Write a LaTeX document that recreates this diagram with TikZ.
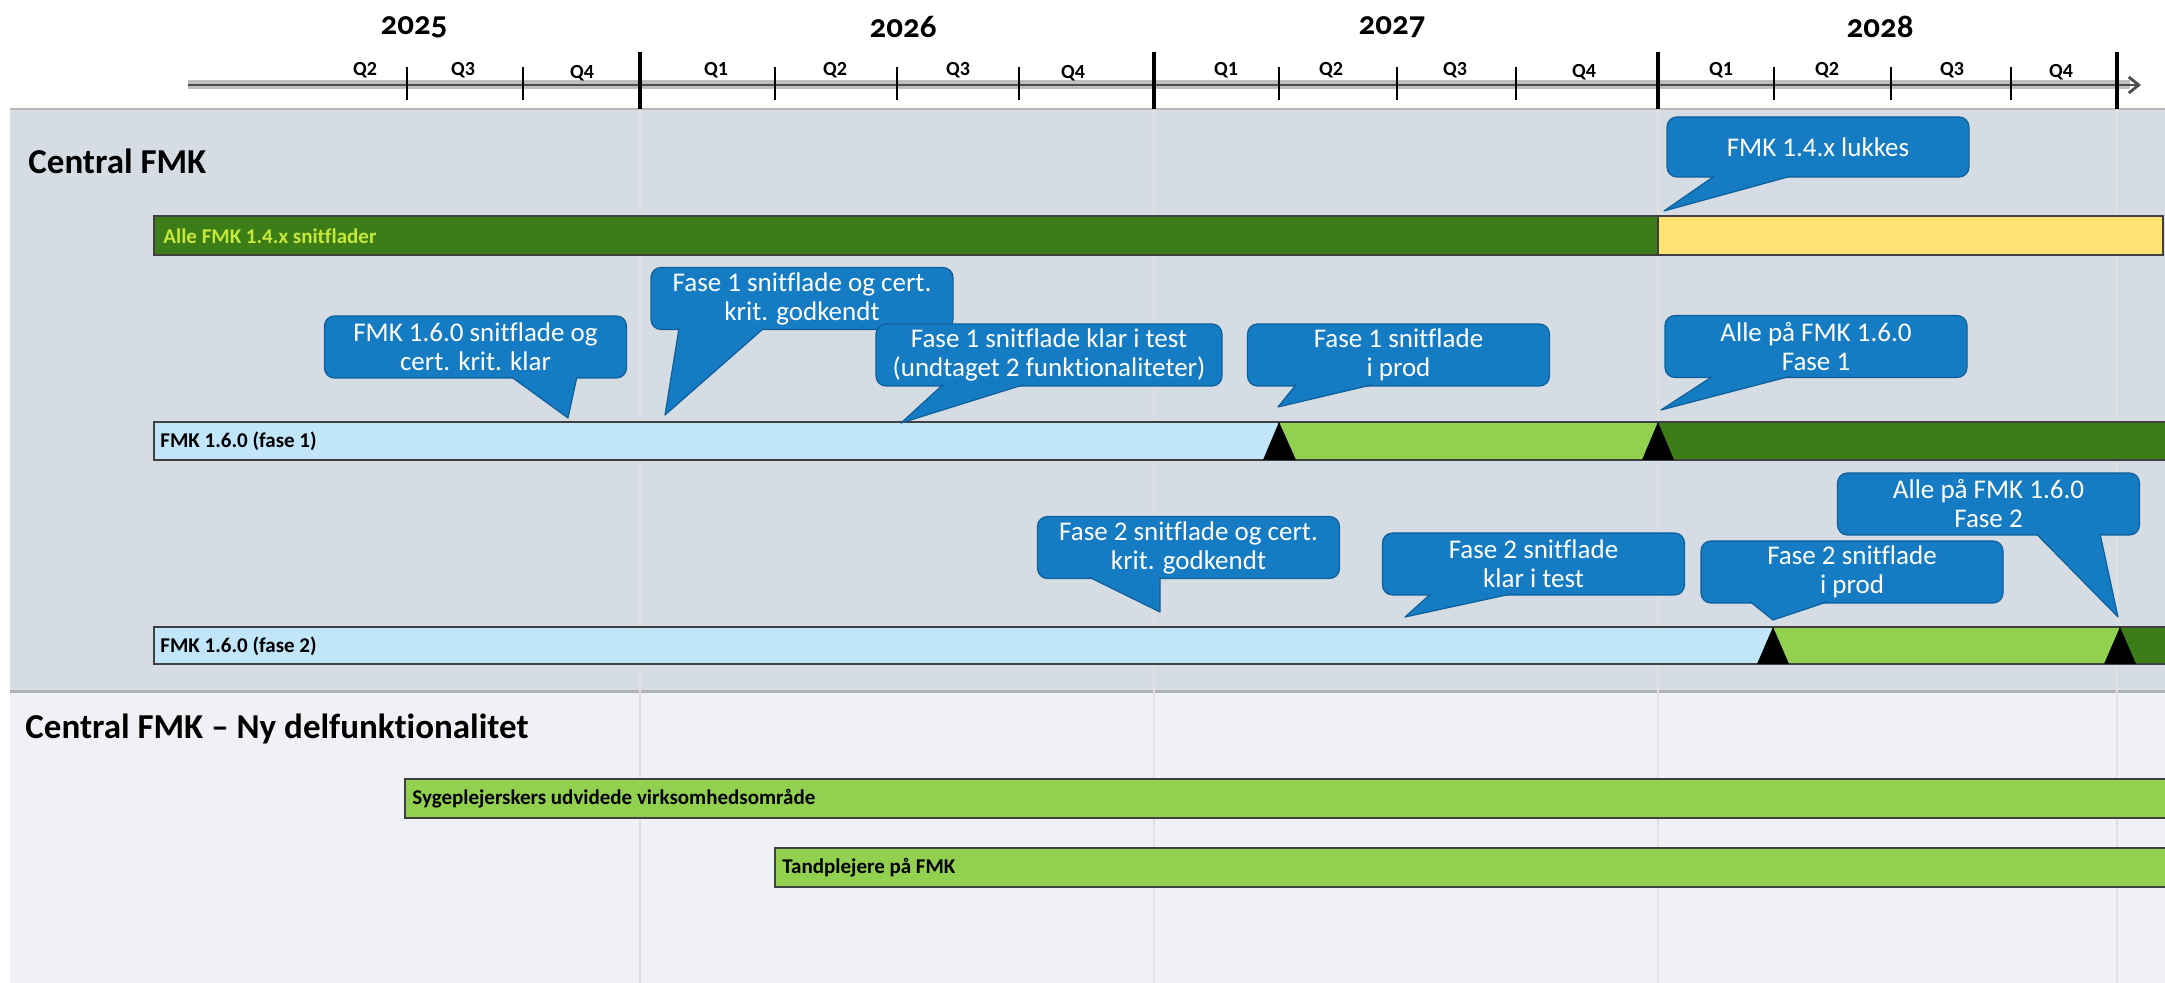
\documentclass[tikz,border=0pt]{standalone}
\usepackage{fontspec}
\setmainfont{Carlito}[Ligatures=NoCommon]
\newfontfamily\yearfont[Numbers=OldStyle,Ligatures=NoCommon]{Carlito}
\usetikzlibrary{arrows.meta,calc}
\definecolor{panelup}{HTML}{D6DCE4}
\definecolor{panellow}{HTML}{EFF1F4}
\definecolor{darkgreen}{HTML}{3C7D18}
\definecolor{lightgreen}{HTML}{92D050}
\definecolor{lightblue}{HTML}{C1E5F9}
\definecolor{baryellow}{HTML}{FFE372}
\definecolor{limetext}{HTML}{C5E83A}
\definecolor{callblue}{HTML}{157CC3}
\definecolor{callborder}{HTML}{0E5F9A}
\begin{document}
\begin{tikzpicture}[x=0.5pt,y=-0.5pt,
  callbox/.style={fill=callblue,draw=callborder,line width=0.6pt,rounded corners=5pt,minimum width=151pt,minimum height=31pt,inner sep=0pt,align=center,text=white,font=\fontsize{13.5}{14.5}\selectfont},
  tail/.style={fill=callblue,draw=callborder,line width=0.6pt,line join=round},
  bar/.style={draw=black!75,line width=0.6pt},
  barlabel/.style={anchor=west,inner sep=0pt,font=\fontsize{10.5}{12}\selectfont\bfseries},
  title/.style={anchor=base west,inner sep=0pt,font=\fontsize{17.5}{20}\selectfont\bfseries},
  yearlabel/.style={inner sep=0pt,font=\yearfont\fontsize{16.5}{18}\selectfont\bfseries},
  qlabel/.style={inner sep=0pt,font=\fontsize{10}{12}\selectfont\bfseries},
  qline/.style={line width=0.75pt},
  yline/.style={line width=2pt},
  gridline/.style={color=black!12,line width=1pt}]
\useasboundingbox (0,0) rectangle (2165,983);
\fill[white] (0,0) rectangle (2165,983);
% panels
\fill[panelup] (10,109) rectangle (2165,692);
\fill[panellow] (10,692) rectangle (2165,983);
\draw[gray!55,line width=1pt] (10,109) -- (2165,109);
\draw[gray!60,line width=1.5pt] (10,692) -- (2165,692);
\draw[gridline] (640,109) -- (640,983);
\draw[gridline] (1154,109) -- (1154,983);
\draw[gridline] (1658,109) -- (1658,983);
\draw[gridline] (2117,109) -- (2117,983);
% time axis
\draw[gray!50,line width=4.5pt] (188,85) -- (2130,85);
\draw[gray!60!black,line width=1.4pt,-{Straight Barb[length=5pt,width=8pt]}] (188,85) -- (2141,85);
\draw[qline] (407,67) -- (407,100);
\draw[qline] (523,67) -- (523,100);
\draw[qline] (775,67) -- (775,100);
\draw[qline] (897,67) -- (897,100);
\draw[qline] (1019,67) -- (1019,100);
\draw[qline] (1279,67) -- (1279,100);
\draw[qline] (1397,67) -- (1397,100);
\draw[qline] (1516,67) -- (1516,100);
\draw[qline] (1774,67) -- (1774,100);
\draw[qline] (1891,67) -- (1891,100);
\draw[qline] (2011,67) -- (2011,100);
\draw[yline] (640,52) -- (640,109);
\draw[yline] (1154,52) -- (1154,109);
\draw[yline] (1658,52) -- (1658,109);
\draw[yline] (2117,52) -- (2117,109);
\node[yearlabel] (y2025) at (414,27) {2025};
\node[yearlabel] (y2026) at (903,27) {2026};
\node[yearlabel] (y2027) at (1392,27) {2027};
\node[yearlabel] (y2028) at (1880,27) {2028};
\node[qlabel] (q25b) at (365,70) {Q2};
\node[qlabel] (q25c) at (463,70) {Q3};
\node[qlabel] (q25d) at (582,73) {Q4};
\node[qlabel] (q26a) at (716,70) {Q1};
\node[qlabel] (q26b) at (835,70) {Q2};
\node[qlabel] (q26c) at (958,70) {Q3};
\node[qlabel] (q26d) at (1073,73) {Q4};
\node[qlabel] (q27a) at (1226,70) {Q1};
\node[qlabel] (q27b) at (1331,70) {Q2};
\node[qlabel] (q27c) at (1455,70) {Q3};
\node[qlabel] (q27d) at (1584,72) {Q4};
\node[qlabel] (q28a) at (1721,70) {Q1};
\node[qlabel] (q28b) at (1827,70) {Q2};
\node[qlabel] (q28c) at (1952,70) {Q3};
\node[qlabel] (q28d) at (2061,72) {Q4};
% section titles
\node[title] (central) at (28,174) {Central FMK};
\node[title] (nydel) at (25,739) {Central FMK – Ny delfunktionalitet};
% bars
\draw[bar,fill=darkgreen] (154,216) rectangle (1658,255);
\draw[bar,fill=baryellow] (1658,216) rectangle (2163,255);
\node[barlabel,text=limetext] (barA) at (163,236) {Alle FMK 1.4.x snitflader};
\draw[bar,fill=lightblue] (154,422) rectangle (1279,460);
\draw[bar,fill=lightgreen] (1279,422) rectangle (1658,460);
\draw[bar,fill=darkgreen] (1658,422) rectangle (2166,460);
\fill (1263,460) -- (1279,422) -- (1296,460) -- cycle;
\fill (1642,460) -- (1658,422) -- (1674,460) -- cycle;
\node[barlabel] (barB) at (160,441) {FMK 1.6.0 (fase 1)};
\draw[bar,fill=lightblue] (154,627) rectangle (1773,664);
\draw[bar,fill=lightgreen] (1773,627) rectangle (2120,664);
\draw[bar,fill=darkgreen] (2120,627) rectangle (2166,664);
\fill (1757,664) -- (1773,627) -- (1789,664) -- cycle;
\fill (2104,664) -- (2120,627) -- (2136,664) -- cycle;
\node[barlabel] (barC) at (160,646) {FMK 1.6.0 (fase 2)};
\draw[bar,fill=lightgreen] (405,779) rectangle (2166,818);
\node[barlabel] (barD) at (412,799) {Sygeplejerskers udvidede virksomhedsområde};
\draw[bar,fill=lightgreen] (775,848) rectangle (2166,887);
\node[barlabel] (barE) at (782,868) {Tandplejere på FMK};
% callout tips
\coordinate (t14) at (1664,211);
\coordinate (t160) at (568,418);
\coordinate (tf1god) at (665,415);
\coordinate (tf1test) at (901,423);
\coordinate (tf1prod) at (1278,407);
\coordinate (talle1) at (1661,410);
\coordinate (tf2god) at (1160,612);
\coordinate (tf2test) at (1405,617);
\coordinate (tf2prod) at (1773,620);
\coordinate (talle2) at (2118,617);
% callouts
\node[callbox,minimum height=30pt] (c14) at (1818,147) {FMK 1.4.x lukkes};
\filldraw[tail] ($(c14.south)+(-103,-2)$) -- (t14) -- ($(c14.south)+(-25,-2)$);
\node[callbox] (c160) at (475.5,347) {FMK 1.6.0 snitflade og\\cert. krit. klar};
\filldraw[tail] ($(c160.south)+(35.5,-2)$) -- (t160) -- ($(c160.south)+(101.5,-2)$);
\node[callbox] (cf1god) at (802,298.5) {Fase 1 snitflade og cert.\\krit. godkendt};
\filldraw[tail] ($(cf1god.south)+(-123,-2)$) -- (tf1god) -- ($(cf1god.south)+(-38,-2)$);
\node[callbox,minimum width=173pt] (cf1test) at (1049,355) {Fase 1 snitflade klar i test\\(undtaget 2 funktionaliteter)};
\filldraw[tail] ($(cf1test.south)+(-106,-2)$) -- (tf1test) -- ($(cf1test.south)+(-25,-2)$);
\node[callbox] (cf1prod) at (1398.5,355) {Fase 1 snitflade\\i prod};
\filldraw[tail] ($(cf1prod.south)+(-102.5,-2)$) -- (tf1prod) -- ($(cf1prod.south)+(-25.5,-2)$);
\node[callbox] (calle1) at (1816,346.5) {Alle på FMK 1.6.0\\Fase 1};
\filldraw[tail] ($(calle1.south)+(-103,-2)$) -- (talle1) -- ($(calle1.south)+(-25,-2)$);
\node[callbox] (cf2god) at (1188.5,547.5) {Fase 2 snitflade og cert.\\krit. godkendt};
\filldraw[tail] ($(cf2god.south)+(-99.5,-2)$) -- (tf2god) -- ($(cf2god.south)+(-28.5,-2)$);
\node[callbox] (cf2test) at (1533.5,564) {Fase 2 snitflade\\klar i test};
\filldraw[tail] ($(cf2test.south)+(-102.5,-2)$) -- (tf2test) -- ($(cf2test.south)+(-20.5,-2)$);
\node[callbox] (cf2prod) at (1852,572) {Fase 2 snitflade\\i prod};
\filldraw[tail] ($(cf2prod.south)+(-102,-2)$) -- (tf2prod) -- ($(cf2prod.south)+(-24,-2)$);
\node[callbox] (calle2) at (1988.5,504) {Alle på FMK 1.6.0\\Fase 2};
\filldraw[tail] ($(calle2.south)+(47.5,-2)$) -- (talle2) -- ($(calle2.south)+(111.5,-2)$);
\end{tikzpicture}
\end{document}
